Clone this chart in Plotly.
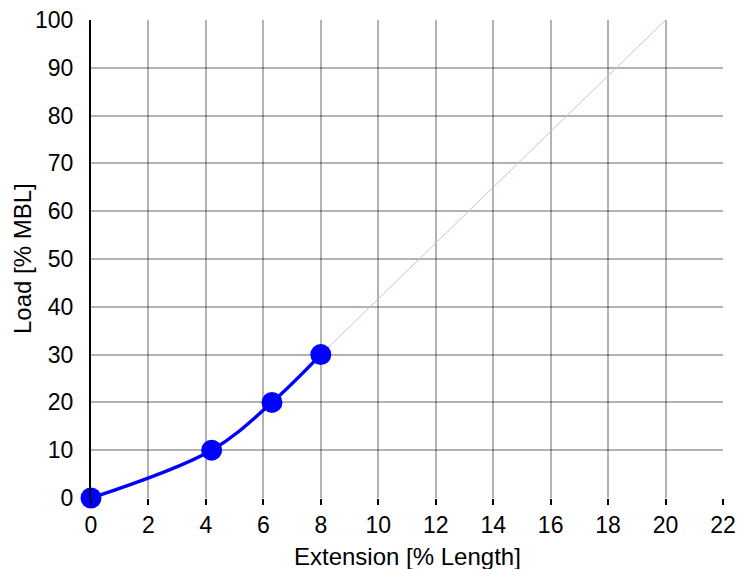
import plotly.graph_objects as go

ext = [0, 4.2, 6.3, 8.0]
load = [0, 10, 20, 30]
ext_lin = [8.0, 20.0]
load_lin = [30, 100]
x_ticks = list(range(0, 23, 2))
y_ticks = list(range(0, 101, 10))
x_title = "Extension [% Length]"
y_title = "Load [% MBL]"

fig = go.Figure()
fig.add_trace(go.Scatter(x=ext_lin, y=load_lin, mode="lines",
                         line=dict(color="#b4c7e7", width=1), hoverinfo="skip"))
fig.add_trace(go.Scatter(x=ext, y=load, mode="lines+markers", cliponaxis=False,
                         line=dict(color="#0000ff", width=3.5, shape="spline", smoothing=1),
                         marker=dict(color="#0000ff", size=21)))

fam = "Liberation Sans, Arial, sans-serif"
tickfont = dict(family=fam, size=23, color="black")
titlefont = dict(family=fam, size=24, color="black")
fig.update_layout(
    width=737, height=569,
    margin=dict(l=91, r=14, t=20, b=71, autoexpand=False),
    plot_bgcolor="white", paper_bgcolor="white",
    showlegend=False, font=dict(family=fam, size=23, color="black"),
)
fig.add_annotation(text=x_title, xref="paper", yref="paper", x=0.5, y=0,
                   xanchor="center", yanchor="middle", yshift=-58,
                   showarrow=False, font=titlefont)
fig.add_annotation(text=y_title, xref="paper", yref="paper", x=0, y=0.5,
                   xanchor="center", yanchor="middle", xshift=-69, textangle=-90,
                   showarrow=False, font=titlefont)
fig.update_xaxes(range=[0, 22], tickvals=x_ticks, showgrid=True, automargin=False,
                 gridcolor="rgba(0,0,0,0.3)", gridwidth=1.5, ticklabeloverflow="allow",
                 ticks="outside", ticklen=6, tickwidth=2, tickcolor="black",
                 zeroline=False, showline=False, mirror=False,
                 tickfont=tickfont)
fig.update_yaxes(range=[0, 100], tickvals=y_ticks, showgrid=True, automargin=False,
                 gridcolor="rgba(0,0,0,0.3)", gridwidth=1.5, ticklabeloverflow="allow",
                 zeroline=False, showline=True, linecolor="black", linewidth=2,
                 ticks="outside", ticklen=11, tickcolor="rgba(0,0,0,0)",
                 tickfont=tickfont)
fig.write_html("out.html", config={"displayModeBar": False},
               post_script="document.body.style.margin='0';")
